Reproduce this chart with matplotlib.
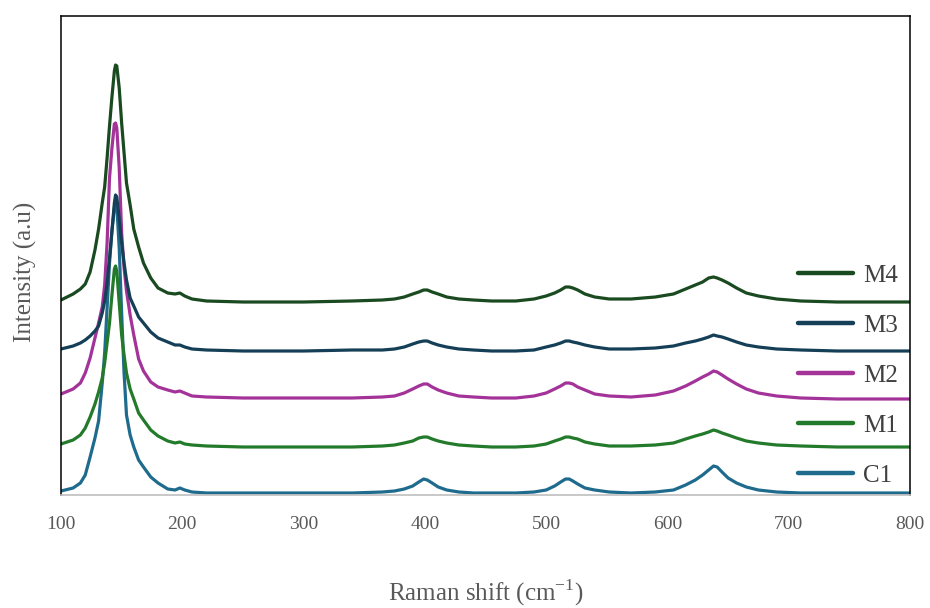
import matplotlib.pyplot as plt

plt.rcParams['font.family'] = ['Liberation Serif', 'DejaVu Serif']
plt.rcParams['mathtext.fontset'] = 'custom'
plt.rcParams['mathtext.rm'] = 'Liberation Serif'

# Raman shift (cm-1) and intensities (arbitrary units, offset stack)
shift = [100, 110, 116, 120, 124, 128, 131, 134, 136, 138,
         140, 142, 144, 145, 146, 148, 150, 152, 154, 157,
         160, 164, 168, 174, 180, 188, 194, 198, 202, 208,
         220,
         250, 300, 340, 365, 375, 383, 390, 395, 399, 402,
         406, 411, 418, 428, 440, 455, 475, 490, 500, 507,
         512, 516, 519, 522, 526, 532, 540, 552, 570, 590,
         605, 615, 623, 629, 634, 638, 641, 645, 650, 657,
         665, 675, 690, 710, 740, 770, 800]

c1 = [2, 5, 10, 18, 36, 55, 72, 110, 140, 185,
      230, 262, 285, 290, 287, 245, 180, 120, 78, 58,
      46, 33, 26, 16, 10, 4, 3, 5, 3, 1,
      0,
      0, 0, 0, 1, 2, 4, 7, 11, 14, 13,
      10, 6, 3, 1, 0, 0, 0, 1, 3, 7,
      11, 14, 14, 12, 9, 5, 3, 1, 0, 1,
      3, 8, 13, 18, 23, 27, 26, 21, 15, 10,
      6, 3, 1, 0, 0, 0, 0]

m1 = [49, 53, 58, 65, 76, 89, 101, 115, 130, 150,
      170, 198, 224, 227, 222, 190, 158, 138, 120, 104,
      94, 80, 73, 63, 57, 52, 50, 51, 49, 48,
      47,
      46, 46, 46, 47, 48, 50, 52, 55, 56, 56,
      54, 52, 50, 48, 47, 46, 46, 47, 49, 52,
      54, 56, 56, 55, 54, 51, 49, 47, 47, 48,
      50, 54, 57, 59, 61, 63, 62, 60, 58, 55,
      52, 50, 48, 47, 46, 46, 46]

m2 = [99, 104, 110, 120, 135, 155, 170, 186, 208, 250,
      315, 345, 369, 370, 365, 325, 260, 225, 202, 178,
      158, 134, 122, 111, 106, 103, 101, 102, 100, 97,
      96,
      95, 95, 95, 96, 97, 100, 104, 107, 109, 109,
      106, 103, 100, 97, 96, 95, 95, 97, 100, 104,
      107, 110, 110, 109, 106, 103, 99, 97, 96, 98,
      102, 107, 112, 116, 119, 122, 121, 118, 114, 109,
      104, 100, 97, 95, 94, 94, 94]

m3 = [144, 147, 150, 153, 157, 162, 167, 180, 192, 210,
      235, 262, 290, 298, 296, 275, 250, 230, 213, 195,
      187, 176, 170, 161, 155, 151, 148, 148, 146, 144,
      143,
      142, 142, 143, 143, 144, 146, 149, 151, 152, 152,
      150, 148, 146, 144, 143, 142, 142, 143, 146, 148,
      150, 152, 152, 151, 150, 148, 146, 144, 144, 145,
      147, 150, 152, 154, 156, 158, 157, 156, 154, 151,
      148, 146, 144, 143, 142, 142, 142]

m4 = [193, 199, 204, 209, 221, 243, 264, 290, 306, 335,
      367, 396, 422, 428, 427, 405, 370, 340, 310, 288,
      264, 246, 230, 215, 205, 200, 199, 200, 197, 194,
      192,
      191, 191, 192, 193, 194, 196, 199, 201, 203, 203,
      201, 199, 196, 194, 193, 192, 192, 194, 197, 200,
      203, 206, 206, 205, 203, 199, 196, 194, 194, 196,
      199, 204, 208, 211, 215, 216, 215, 213, 210, 205,
      200, 197, 194, 192, 191, 191, 191]

names = ['C1', 'M1', 'M2', 'M3', 'M4']
spectra = [c1, m1, m2, m3, m4]
colors = ['#1f6b8d', '#237a2b', '#a33399', '#153f57', '#1a4a20']

fig = plt.figure(figsize=(9.3, 6.08), dpi=100)
ax = fig.add_axes([61/930, 113/608, 849/930, 479/608])

lines = []
for name, y, col in zip(names, spectra, colors):
    ln, = ax.plot(shift, y, color=col, lw=2.3, label=name,
                  solid_joinstyle='round', solid_capstyle='round')
    lines.append(ln)

ax.set_xlim(100, 800)
ax.set_ylim(-2, 477)
ax.set_xticks(range(100, 801, 100))
ax.set_yticks([])
ax.tick_params(axis='x', length=0, pad=15, labelsize=14, labelcolor='#595959')

for s in ['left', 'top', 'right']:
    ax.spines[s].set_color('black')
    ax.spines[s].set_linewidth(1.1)
ax.spines['bottom'].set_color('#bfbfbf')
ax.spines['bottom'].set_linewidth(1.2)

ax.set_xlabel(r'Raman shift (cm$^{\mathrm{-1}}$)', fontsize=18, color='#595959')
ax.xaxis.set_label_coords(0.5, -0.172)
ax.set_ylabel('Intensity (a.u)', fontsize=18, color='#595959')
ax.yaxis.set_label_coords(-0.028, 0.465)

leg = ax.legend(lines[::-1], names[::-1], loc='upper left',
                bbox_to_anchor=(0.868, 0.482), frameon=False, fontsize=18,
                borderaxespad=0, borderpad=0, handlelength=2.2,
                handletextpad=0.4, labelspacing=1.1)
for t in leg.get_texts():
    t.set_color('#404040')
for h in leg.get_lines():
    h.set_linewidth(3.2)

fig.savefig('out.png', dpi=100)
